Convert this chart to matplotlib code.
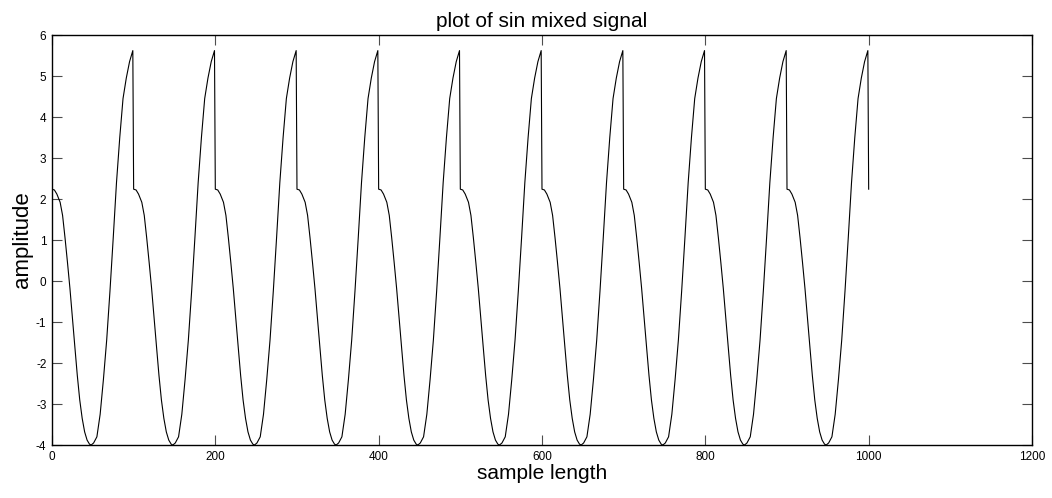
import numpy as np
import matplotlib
matplotlib.use("Agg")
import matplotlib.pyplot as plt

plt.rcParams["font.family"] = ["Liberation Sans", "DejaVu Sans"]
plt.rcParams["axes.unicode_minus"] = False

# one period of the mixed signal (sample offset, amplitude)
cycle_offsets = [0, 3, 6, 10, 13, 16, 19, 22, 25, 28, 31, 34, 37, 40, 43, 46, 48,
                 51, 55, 59, 63, 67, 71, 75, 79, 83, 87, 91, 95, 99]
cycle_values = [2.24, 2.22, 2.12, 1.92, 1.60, 1.05, 0.45, -0.18, -0.90, -1.60,
                -2.30, -2.90, -3.35, -3.68, -3.88, -3.98, -4.00, -3.95, -3.80,
                -3.25, -2.40, -1.44, -0.25, 1.05, 2.40, 3.50, 4.45, 4.95, 5.35, 5.62]
period_starts = [0, 100, 200, 300, 400, 500, 600, 700, 800, 900]
end_sample = 1000
end_value = 2.24

x_ticks = [0, 200, 400, 600, 800, 1000, 1200]
y_ticks = [-4, -3, -2, -1, 0, 1, 2, 3, 4, 5, 6]

n = []
amp = []
for s in period_starts:
    n.extend(s + o for o in cycle_offsets)
    amp.extend(cycle_values)
n.append(end_sample)
amp.append(end_value)

fig = plt.figure(figsize=(10.52, 4.98), dpi=100)
ax = fig.add_axes([0.0494, 0.1064, 0.9316, 0.8233])
ax.plot(n, amp, color="black", linewidth=0.8)

ax.set_xlim(0, 1200)
ax.set_ylim(-4, 6)
ax.set_xticks(x_ticks)
ax.set_yticks(y_ticks)
ax.tick_params(direction="in", length=7, width=0.8, color="0.3",
               top=True, right=True, labelsize=8.5, pad=4)
for sp in ax.spines.values():
    sp.set_linewidth(1.0)

ax.set_title("plot of sin mixed signal", fontsize=15, pad=6)
ax.set_xlabel("sample length", fontsize=15, labelpad=1)
ax.set_ylabel("amplitude", fontsize=16, labelpad=2)

fig.savefig("out.png", dpi=100)
